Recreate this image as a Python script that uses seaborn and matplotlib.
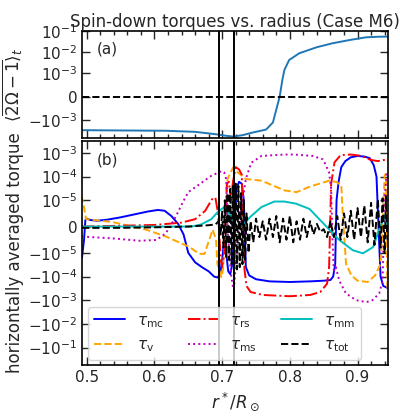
import numpy as np
import pandas as pd
import matplotlib
matplotlib.use("Agg")
import matplotlib.pyplot as plt
import seaborn as sns
from matplotlib.ticker import FixedLocator, FixedFormatter, MultipleLocator, NullLocator

sns.set_style("ticks")
plt.rcParams['font.family'] = ['DejaVu Sans']
plt.rcParams['mathtext.fontset'] = 'dejavusans'

# ---------------- data ----------------
# panel (a): differential rotation
r_a = [0.492, 0.55, 0.617, 0.66, 0.691, 0.705, 0.716, 0.73, 0.745, 0.765, 0.775, 0.780,
       0.785, 0.789, 0.792, 0.799, 0.814, 0.84, 0.863, 0.89, 0.913, 0.93, 0.945]
omega_a = [-3.0e-3, -3.1e-3, -3.2e-3, -3.6e-3, -4.7e-3, -5.5e-3, -6.0e-3, -5.2e-3, -3.9e-3,
           -2.8e-3, -1.3e-3, -5.5e-4, 0.0, 7.2e-4, 1.43e-3, 4.2e-3, 8.8e-3, 1.7e-2, 2.6e-2,
           3.8e-2, 5.0e-2, 5.3e-2, 5.4e-2]

# panel (b): torques
r_mc = [0.493, 0.496, 0.498, 0.500, 0.505, 0.515, 0.53, 0.55, 0.57, 0.59, 0.605, 0.615,
        0.625, 0.635, 0.643, 0.650, 0.660, 0.670, 0.680, 0.688, 0.693, 0.697, 0.700, 0.703,
        0.706, 0.709, 0.712, 0.715, 0.718, 0.721, 0.725, 0.729, 0.732, 0.735, 0.740, 0.750,
        0.77, 0.80, 0.83, 0.85, 0.86, 0.864, 0.867, 0.869, 0.872, 0.876, 0.882, 0.89, 0.90,
        0.91, 0.918, 0.924, 0.928, 0.931, 0.934, 0.938, 0.944]
tau_mc = [-1.6e-5, -5e-6, 2.5e-6, 3.0e-6, 2.5e-6, 2.2e-6, 2.6e-6, 3.5e-6, 4.6e-6, 5.7e-6,
          6.3e-6, 6.0e-6, 4.0e-6, 1.0e-6, -3e-6, -1.0e-5, -2.5e-5, -4e-5, -6e-5, -1.0e-4,
          -1.1e-4, -8e-5, -2e-5, -5e-6, -1e-5, -6e-5, -8e-5, -3e-5, -2e-6, 3e-5, 6e-5, 5e-5,
          1e-5, -4e-5, -9e-5, -1.3e-4, -1.6e-4, -1.7e-4, -1.6e-4, -1.5e-4, -1.4e-4, -1.0e-4,
          -3e-5, 1e-5, 6e-5, 2.5e-4, 4.5e-4, 6.5e-4, 7.4e-4, 7.0e-4, 6.0e-4, 3.0e-4, 1e-4,
          0.0, -1e-4, -2.5e-4, -3e-4]

r_v = [0.492, 0.495, 0.499, 0.538, 0.588, 0.617, 0.652, 0.666, 0.674, 0.681, 0.686, 0.691,
       0.693, 0.699, 0.701, 0.703, 0.708, 0.716, 0.723, 0.735, 0.758, 0.792, 0.81, 0.829,
       0.858, 0.869, 0.876, 0.878, 0.883, 0.891, 0.90, 0.915, 0.926, 0.934, 0.937, 0.940,
       0.942, 0.944]
tau_v = [1.6e-5, 8.7e-6, 2.8e-6, 1.7e-6, -1.2e-6, -3.8e-6, -7.8e-6, -1.1e-5, -1.1e-5, -5e-6,
         -1.2e-6, -5e-6, -2.9e-5, -1.07e-4, -5.6e-5, -9e-6, 7.9e-5, 2.4e-4, 1.5e-4, 7.9e-5,
         6.7e-5, 2.6e-5, 2.2e-5, 3.7e-5, 6.7e-5, 5.9e-5, 4.2e-5, 5.5e-6, -2.9e-5, -9e-5,
         -1.5e-4, -1.7e-4, -9e-5, -2.9e-5, -1.2e-6, 1.1e-4, 1.3e-4, -3e-4]

r_rs = [0.493, 0.55, 0.60, 0.64, 0.66, 0.675, 0.685, 0.690, 0.694, 0.698, 0.700, 0.703,
        0.707, 0.710, 0.713, 0.716, 0.720, 0.725, 0.729, 0.733, 0.736, 0.742, 0.76, 0.80,
        0.83, 0.845, 0.855, 0.858, 0.861, 0.866, 0.875, 0.89, 0.905, 0.92, 0.93, 0.944]
tau_rs = [0.0, 3e-7, 6e-7, 1.5e-6, 2.8e-6, 6e-6, 1.1e-5, 1.3e-5, 5e-6, -2e-5, -4e-5, -1e-5,
          5e-5, 6e-5, 1e-5, 6e-5, 2.5e-4, 2e-4, 1.2e-4, -5e-5, -2.5e-4, -4.5e-4, -6e-4,
          -6.8e-4, -6e-4, -4.5e-4, -2e-4, -4e-5, 5e-5, 4e-4, 8e-4, 8.5e-4, 7.5e-4, 5e-4,
          4.5e-4, 5.3e-4]

r_ms = [0.493, 0.538, 0.578, 0.603, 0.617, 0.632, 0.642, 0.650, 0.664, 0.684, 0.699, 0.703,
        0.706, 0.708, 0.713, 0.716, 0.718, 0.723, 0.728, 0.735, 0.743, 0.758, 0.792, 0.807,
        0.834, 0.849, 0.858, 0.861, 0.863, 0.865, 0.868, 0.873, 0.883, 0.898, 0.913, 0.922,
        0.932, 0.937, 0.940, 0.943]
tau_ms = [-3.8e-6, -4.5e-6, -5.4e-6, -5.1e-6, -2.5e-6, 4e-6, 9.3e-6, 2.2e-5, 4.2e-5, 1.08e-4,
          1.7e-4, 1.5e-4, 7.9e-5, -1.2e-6, -7.7e-5, -2.8e-4, -2e-4, -5e-6, 6.3e-6, 7.9e-5,
          3.8e-4, 7.4e-4, 8.5e-4, 8.5e-4, 7.4e-4, 5.3e-4, 1.5e-4, 3e-5, -5e-6, -5.6e-5,
          -4e-5, -1.5e-4, -5.2e-4, -1e-3, -1.2e-3, -1e-3, -5.2e-4, -1.5e-4, 1e-5, 1.5e-4]

r_mm = [0.493, 0.60, 0.655, 0.669, 0.684, 0.693, 0.703, 0.713, 0.721, 0.726, 0.743, 0.758,
        0.777, 0.792, 0.809, 0.829, 0.854, 0.873, 0.893, 0.908, 0.923, 0.932, 0.940, 0.944]
tau_mm = [0.0, 0.0, 0.0, 8e-7, 2.8e-6, 5.4e-6, 7.4e-6, 4e-6, 0.0, -5e-7, 4e-6, 7.4e-6,
          9.5e-6, 9.5e-6, 8.7e-6, 6.7e-6, 0.0, -5.1e-6, -9e-6, -1.05e-5, -7.8e-6, -1.2e-6,
          4e-6, 0.0]

r_tot = [0.493, 0.55, 0.60, 0.65, 0.68, 0.69, 0.695, 0.698, 0.700, 0.702, 0.704, 0.706,
         0.708, 0.710, 0.712, 0.714, 0.716, 0.718, 0.720, 0.722, 0.724, 0.726, 0.728, 0.730,
         0.732, 0.734, 0.736, 0.739, 0.742, 0.746, 0.750, 0.755, 0.760, 0.765, 0.770, 0.775,
         0.780, 0.785, 0.790, 0.795, 0.800, 0.805, 0.810, 0.815, 0.820, 0.825, 0.830, 0.835,
         0.840, 0.845, 0.850, 0.855, 0.860, 0.865, 0.870, 0.875, 0.880, 0.885, 0.890, 0.895,
         0.900, 0.905, 0.910, 0.915, 0.920, 0.925, 0.930, 0.934, 0.937, 0.940, 0.942, 0.944]
tau_tot = [-5e-7, -5e-7, -3e-7, 0.0, 5e-7, 8e-7, 2e-6, -3e-6, 6e-6, -8e-6, 1e-5, -1.5e-5,
           2e-5, -2e-5, 3e-5, -3e-5, 4e-5, -4e-5, 5e-5, -5e-5, 4e-5, -4e-5, 2e-5, -3e-5,
           1e-5, -2e-5, 5e-6, -1e-5, 2e-6, -6e-6, 3e-6, -4e-6, 2e-6, -5e-6, 3e-6, -4e-6,
           4e-6, -6e-6, 3e-6, -5e-6, 4e-6, -6e-6, 2e-6, -5e-6, 3e-6, -4e-6, 2e-6, -3e-6,
           1e-6, -2e-6, -1e-6, -4e-6, 2e-6, -4e-6, 4e-6, -5e-6, 5e-6, -4e-6, 6e-6, -5e-6,
           7e-6, -4e-6, 8e-6, -6e-6, 9e-6, -7e-6, 1.1e-5, -8e-6, 1.2e-5, -1e-5, 1.5e-5, -5e-6]

r_lines = [0.696, 0.718]

labels = [r'$\tau_{\rm mc}$', r'$\tau_{\rm v}$', r'$\tau_{\rm rs}$',
          r'$\tau_{\rm ms}$', r'$\tau_{\rm mm}$', r'$\tau_{\rm tot}$']

a_ticks = [-1e-3, 0, 1e-3, 1e-2, 1e-1]
a_ticklabels = [r'$-10^{-3}$', r'$0$', r'$10^{-3}$', r'$10^{-2}$', r'$10^{-1}$']
b_ticks = [-1e-1, -1e-2, -1e-3, -1e-4, -1e-5, 0, 1e-5, 1e-4, 1e-3]
b_ticklabels = [r'$-10^{-1}$', r'$-10^{-2}$', r'$-10^{-3}$', r'$-10^{-4}$', r'$-10^{-5}$',
                r'$0$', r'$10^{-5}$', r'$10^{-4}$', r'$10^{-3}$']

# ---------------- figure ----------------
FS = 11
fig = plt.figure(figsize=(4.0, 4.18), dpi=100)
gs = fig.add_gridspec(2, 1, height_ratios=[107, 224], hspace=0.018,
                      left=0.205, right=0.97, top=0.926, bottom=0.127)
ax1 = fig.add_subplot(gs[0])
ax2 = fig.add_subplot(gs[1], sharex=ax1)

lw = 1.4
# panel a
sns.lineplot(x=r_a, y=omega_a, ax=ax1, color='#1f77b4', lw=lw, sort=False, estimator=None)
ax1.axhline(0, color='k', ls='--', lw=1.4)
ax1.set_yscale('symlog', linthresh=1e-3, linscale=1)
ax1.set_ylim(-7e-3, 1e-1)

# panel b
styles = [('b', '-'), ('orange', '--'), ('r', '-.'), ('m', ':'), ('c', '-'), ('k', '--')]
series = [(r_mc, tau_mc), (r_v, tau_v), (r_rs, tau_rs), (r_ms, tau_ms), (r_mm, tau_mm), (r_tot, tau_tot)]
for (xx, yy), (c, ls), lab in zip(series, styles, labels):
    sns.lineplot(x=xx, y=yy, ax=ax2, color=c, linestyle=ls, lw=lw, sort=False,
                 estimator=None, label=lab, legend=False)
ax2.set_yscale('symlog', linthresh=1e-5, linscale=1)
ax2.set_ylim(-0.54, 3.2e-3)

for ax in (ax1, ax2):
    for xv in r_lines:
        ax.axvline(xv, color='k', lw=1.4)
    ax.tick_params(which='both', direction='in', top=True, right=True, labelsize=FS, width=1.0)
    ax.tick_params(which='major', length=6)
    ax.tick_params(which='minor', length=3)
    ax.yaxis.set_minor_locator(NullLocator())
    for s in ax.spines.values():
        s.set_linewidth(1.2)
        s.set_color('k')

ax1.yaxis.set_major_locator(FixedLocator(a_ticks))
ax1.yaxis.set_major_formatter(FixedFormatter(a_ticklabels))
ax2.yaxis.set_major_locator(FixedLocator(b_ticks))
ax2.yaxis.set_major_formatter(FixedFormatter(b_ticklabels))

ax2.set_xlim(0.493, 0.945)
ax2.xaxis.set_major_locator(MultipleLocator(0.1))
ax2.xaxis.set_minor_locator(MultipleLocator(0.02))
ax1.tick_params(labelbottom=False)

ax1.set_title('Spin-down torques vs. radius (Case M6)', fontsize=FS + 1, pad=3)
ax1.set_ylabel(r'$\langle\overline{2\Omega-1}\rangle_t$', fontsize=FS + 1)
ax1.yaxis.set_label_coords(-0.185, 0.5)
ax2.set_xlabel(r'$r^*/R_\odot$', fontsize=FS + 1)
ax2.set_ylabel('horizontally averaged torque', fontsize=FS + 1)
ax2.yaxis.set_label_coords(-0.19, 0.5)

ax1.text(0.048, 0.83, '(a)', transform=ax1.transAxes, fontsize=FS, va='center', ha='left')
ax2.text(0.048, 0.915, '(b)', transform=ax2.transAxes, fontsize=FS, va='center', ha='left')

ax2.legend(loc='lower left', ncol=3, fontsize=FS, handlelength=2.0,
           handletextpad=0.8, borderaxespad=0.0, framealpha=0.8, mode='expand',
           bbox_to_anchor=(0.0196, 0.022, 0.892, 0.2))

fig.savefig('out.png', dpi=100)
